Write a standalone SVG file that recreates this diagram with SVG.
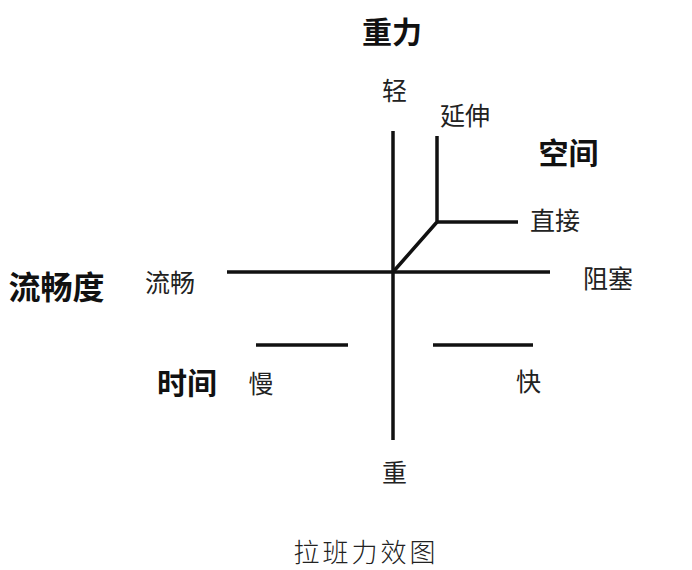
<svg xmlns="http://www.w3.org/2000/svg" width="692" height="570" viewBox="0 0 692 570">
<style>
.t{font-family:"Noto Sans CJK SC","Noto Sans",sans-serif;fill:#222;text-anchor:middle;font-size:25px}
.b{font-weight:600;fill:#111;font-size:30px}
.c{font-family:"Noto Sans CJK SC",serif;font-weight:300;fill:#222;text-anchor:middle;font-size:26px;letter-spacing:3px}
.ln{stroke:#111;stroke-width:3.5;fill:none;stroke-linejoin:miter}
</style>
<rect width="692" height="570" fill="#fff"/>
<g id="connectors">
<line class="ln" x1="393" y1="131" x2="393" y2="440"/>
<line class="ln" x1="227" y1="272" x2="550" y2="272"/>
<polyline class="ln" points="393,272 437,222 437,136"/>
<line class="ln" x1="437" y1="222" x2="518" y2="222"/>
<line class="ln" x1="256" y1="345" x2="348" y2="345"/>
<line class="ln" x1="433" y1="345" x2="533" y2="345"/>
</g>
<g id="weight"><text class="t b" x="392" y="43">重力</text></g>
<g id="light"><text class="t" x="394.5" y="99.5">轻</text></g>
<g id="heavy"><text class="t" x="394.5" y="482">重</text></g>
<g id="extend"><text class="t" x="465" y="124.5">延伸</text></g>
<g id="space"><text class="t b" x="568.5" y="164">空间</text></g>
<g id="direct"><text class="t" x="555" y="229.5">直接</text></g>
<g id="bound"><text class="t" x="608" y="288">阻塞</text></g>
<g id="flow"><text class="t b" x="56.5" y="298.5" style="font-size:32px">流畅度</text></g>
<g id="free"><text class="t" x="170" y="292">流畅</text></g>
<g id="time"><text class="t b" x="187" y="394">时间</text></g>
<g id="slow"><text class="t" x="261" y="393">慢</text></g>
<g id="fast"><text class="t" x="528.5" y="390.5">快</text></g>
<g id="caption"><text class="c" x="366" y="561.5">拉班力效图</text></g>
</svg>
